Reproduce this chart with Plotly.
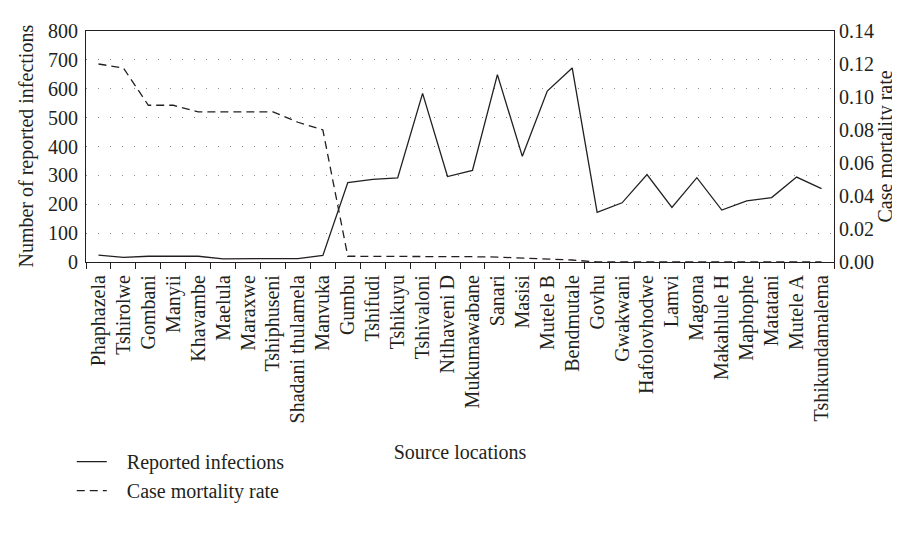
import plotly.graph_objects as go

locations = ["Phaphazela", "Tshirolwe", "Gombani", "Manyii", "Khavambe", "Maelula", "Maraxwe",
             "Tshiphuseni", "Shadani thulamela", "Manvuka", "Gumbu", "Tshifudi", "Tshikuyu",
             "Tshivaloni", "Ntlhaveni D", "Mukumawabane", "Sanari", "Masisi", "Mutele B",
             "Bendmutale", "Govhu", "Gwakwani", "Hafolovhodwe", "Lamvi", "Magona",
             "Makahlule H", "Maphophe", "Matatani", "Mutele A", "Tshikundamalema"]

reported_infections = [24, 16, 20, 20, 20, 11, 11, 11, 12, 23, 275, 286, 291, 584, 296, 317,
                       649, 366, 592, 672, 172, 205, 303, 189, 292, 180, 212, 223, 294, 254]

case_mortality_rate = [0.120, 0.1176, 0.095, 0.095, 0.091, 0.091, 0.091, 0.091, 0.0847, 0.080,
                       0.0035, 0.0035, 0.0035, 0.0034, 0.0033, 0.0032, 0.0030, 0.0025, 0.0018,
                       0.0012, 0.0, 0.0, 0.0, 0.0, 0.0, 0.0, 0.0, 0.0, 0.0, 0.0]

left_ticks = [0, 100, 200, 300, 400, 500, 600, 700, 800]
right_ticks = [0.00, 0.02, 0.04, 0.06, 0.08, 0.10, 0.12, 0.14]

FONT = "Liberation Serif"
INK = "#231f20"
FS = 20
GAP = "\u00a0\u00a0\u00a0"

fig = go.Figure()
fig.add_trace(go.Scatter(x=locations, y=reported_infections, mode="lines",
                         name=GAP + "Reported infections",
                         line=dict(color=INK, width=1.3)))
fig.add_trace(go.Scatter(x=locations, y=case_mortality_rate, mode="lines",
                         name=GAP + "Case mortality rate", yaxis="y2",
                         line=dict(color=INK, width=1.3, dash="8px,5px")))

fig.update_layout(
    width=900, height=533,
    margin=dict(l=78, r=74, t=21, b=279),
    paper_bgcolor="white", plot_bgcolor="white",
    font=dict(family=FONT, size=FS, color=INK),
    showlegend=True,
    legend=dict(x=-0.019, y=-0.78, xanchor="left", yanchor="top",
                font=dict(family=FONT, size=FS, color=INK),
                bgcolor="rgba(0,0,0,0)", tracegroupgap=0, itemwidth=30),
    xaxis=dict(
        type="category", tickson="boundaries", ticks="outside", ticklen=6,
        tickcolor=INK, tickangle=-90, showline=True, linecolor=INK, linewidth=1.2,
        showgrid=False, mirror=True, range=[-0.5, 29.5], ticklabelstandoff=4,
        tickfont=dict(family=FONT, size=FS, color=INK),
        title=dict(text="Source locations", standoff=22,
                   font=dict(family=FONT, size=FS, color=INK)),
    ),
    yaxis=dict(
        range=[0, 800], tickvals=left_ticks, ticks="", showline=True, linecolor=INK,
        linewidth=1.2, showgrid=True, gridcolor="#888", griddash="1px,11px", gridwidth=1.2,
        zeroline=False, ticklabelstandoff=3, tickfont=dict(family=FONT, size=FS, color=INK),
    ),
    yaxis2=dict(
        overlaying="y", side="right", range=[0, 0.14], tickvals=right_ticks,
        tickformat=".2f", ticks="", showline=True, linecolor=INK, linewidth=1.2,
        showgrid=False, zeroline=False, tickfont=dict(family=FONT, size=FS, color=INK),
    ),
    annotations=[
        dict(text="Number of reported infections", xref="paper", yref="paper",
             x=-0.0802, y=0.5, xanchor="center", yanchor="middle", textangle=-90,
             showarrow=False, font=dict(family=FONT, size=FS, color=INK)),
        dict(text="Case mortality rate", xref="paper", yref="paper",
             x=1.0695, y=0.5, xanchor="center", yanchor="middle", textangle=-90,
             showarrow=False, font=dict(family=FONT, size=FS, color=INK)),
    ],
)

fig.write_html("out.html")
